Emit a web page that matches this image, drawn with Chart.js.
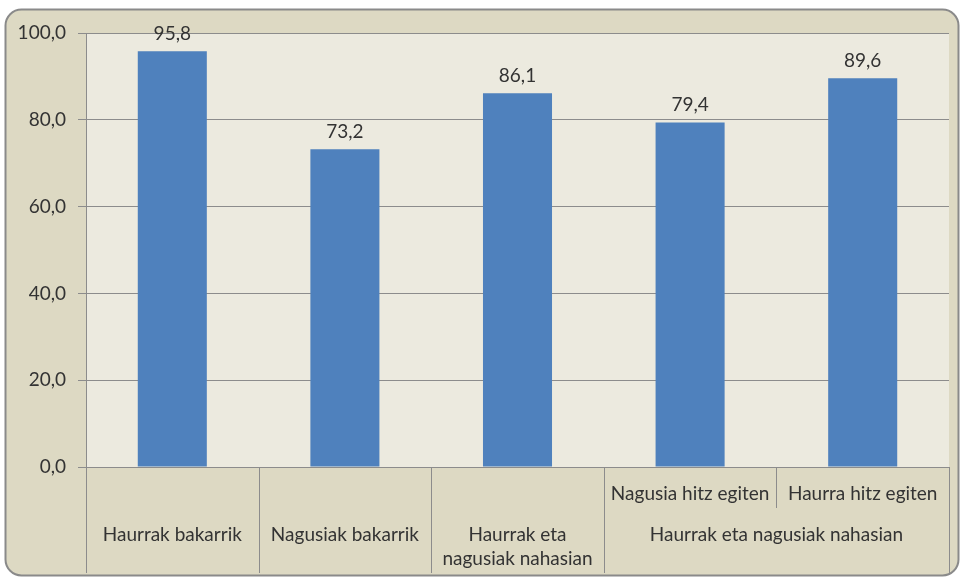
<!DOCTYPE html>
<html>
<head>
<meta charset="utf-8">
<script src="https://cdn.jsdelivr.net/npm/chart.js@4"></script>
<style>
    html, body { margin: 0; padding: 0; background: #ffffff; }
    #wrap { width: 963px; height: 578px; position: relative; }
</style>
</head>
<body>
<div id="wrap"><canvas id="barChart" width="963" height="578"></canvas></div>
<script>
// Chart data
const categories = ['Haurrak bakarrik', 'Nagusiak bakarrik', ['Haurrak eta', 'nagusiak nahasian'], 'Nagusia hitz egiten', 'Haurra hitz egiten'];
const values = [95.8, 73.2, 86.1, 79.4, 89.6];
// Second-level group for the last two categories
const groupLabel = 'Haurrak eta nagusiak nahasian';
const groupStart = 3;
const groupEnd = 4;
const yTicks = [0, 20, 40, 60, 80, 100];

const FONT = 'Lato, "Open Sans", sans-serif';
const TEXT = '#333333';
const LINE = '#8c8c8c';

function fmt(v) {
    return v.toFixed(1).replace('.', ',');
}

// Frame + plot background
const backgroundPlugin = {
    id: 'backgroundPlugin',
    beforeDraw(chart) {
        const ctx = chart.ctx;
        const a = chart.chartArea;
        ctx.save();
        ctx.beginPath();
        ctx.roundRect(5.5, 9.5, 953, 566, 16);
        ctx.fillStyle = '#ddd9c3';
        ctx.fill();
        ctx.lineWidth = 2;
        ctx.strokeStyle = '#8a8a8a';
        ctx.stroke();
        ctx.fillStyle = '#eceadf';
        ctx.fillRect(a.left, a.top, a.right - a.left, a.bottom - a.top);
        ctx.restore();
    }
};

// Value labels over the bars and the category table under the axis
const labelsPlugin = {
    id: 'labelsPlugin',
    afterDraw(chart) {
        const ctx = chart.ctx;
        const x = chart.scales.x;
        const a = chart.chartArea;
        const meta = chart.getDatasetMeta(0);
        ctx.save();
        ctx.font = '19px ' + FONT;
        ctx.fillStyle = TEXT;
        ctx.textAlign = 'center';
        ctx.textBaseline = 'bottom';
        meta.data.forEach((bar, i) => {
            ctx.fillText(fmt(values[i]), bar.x, bar.y - 8);
        });

        // table lines
        const half = (x.getPixelForValue(1) - x.getPixelForValue(0)) / 2;
        const bottom = 573;
        ctx.strokeStyle = LINE;
        ctx.lineWidth = 1;
        ctx.beginPath();
        ctx.moveTo(a.left, Math.round(a.bottom) + 0.5);
        ctx.lineTo(a.right, Math.round(a.bottom) + 0.5);
        for (let i = 0; i <= categories.length; i++) {
            const px = Math.round(x.getPixelForValue(i) - half) + 0.5;
            const inGroup = i > groupStart && i <= groupEnd;
            ctx.moveTo(px, a.bottom);
            ctx.lineTo(px, inGroup ? a.bottom + 41 : bottom);
        }
        ctx.stroke();

        // category text
        ctx.textBaseline = 'middle';
        categories.forEach((label, i) => {
            const cx = x.getPixelForValue(i);
            const inGroup = i >= groupStart && i <= groupEnd;
            if (inGroup) {
                ctx.fillText(label, cx, a.bottom + 27);
            } else if (Array.isArray(label)) {
                ctx.fillText(label[0], cx, a.bottom + 68);
                ctx.fillText(label[1], cx, a.bottom + 92);
            } else {
                ctx.fillText(label, cx, a.bottom + 68);
            }
        });
        const gx = (x.getPixelForValue(groupStart) + x.getPixelForValue(groupEnd)) / 2;
        ctx.fillText(groupLabel, gx, a.bottom + 68);
        ctx.restore();
    }
};

function createChart() {
    const ctx = document.getElementById('barChart').getContext('2d');
    new Chart(ctx, {
        type: 'bar',
        data: {
            labels: categories,
            datasets: [{
                data: values,
                backgroundColor: '#4f81bd',
                borderWidth: 0,
                categoryPercentage: 1.0,
                barPercentage: 0.4
            }]
        },
        options: {
            responsive: false,
            animation: false,
            layout: { padding: { top: 33, right: 14, bottom: 111, left: 0 } },
            plugins: {
                legend: { display: false },
                tooltip: { enabled: false }
            },
            scales: {
                x: {
                    grid: { display: false },
                    border: { display: false },
                    ticks: { display: false },
                    afterFit(scale) { scale.height = 0; }
                },
                y: {
                    min: 0,
                    max: 100,
                    afterBuildTicks(scale) {
                        scale.ticks = yTicks.map(v => ({ value: v }));
                    },
                    afterFit(scale) { scale.width = 86; },
                    grid: {
                        color: LINE,
                        tickLength: 8,
                        drawTicks: true
                    },
                    border: { display: true, color: LINE },
                    ticks: {
                        color: TEXT,
                        padding: 12,
                        font: { family: FONT, size: 19 },
                        callback: v => fmt(v)
                    }
                }
            }
        },
        plugins: [backgroundPlugin, labelsPlugin]
    });
}

createChart();
</script>
</body>
</html>
